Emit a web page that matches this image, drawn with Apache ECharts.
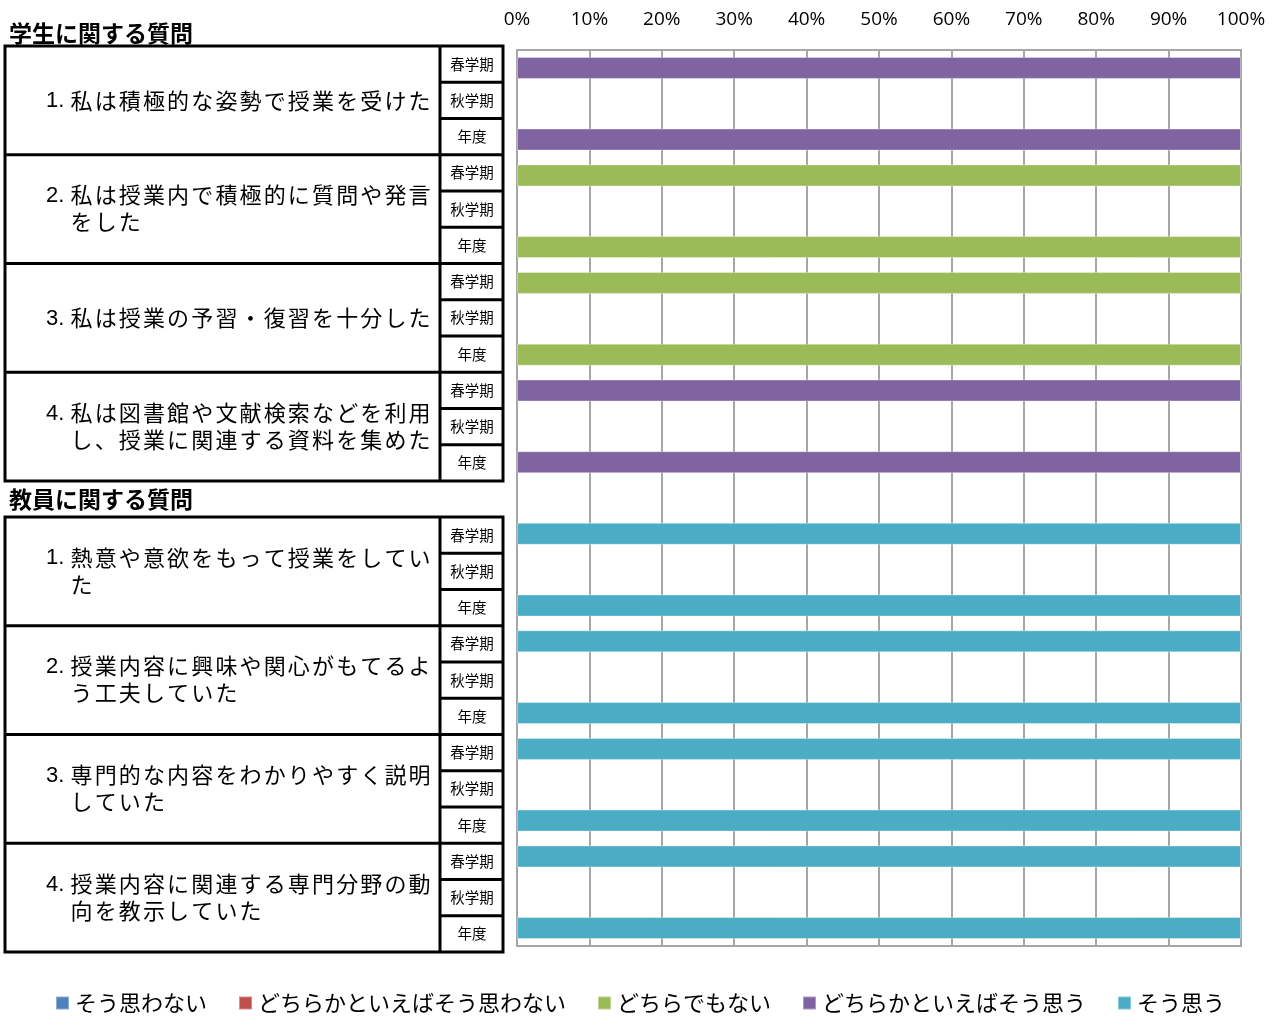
<!DOCTYPE html>
<html><head><meta charset="utf-8">
<script src="https://cdn.jsdelivr.net/npm/echarts@6/dist/echarts.min.js"></script>
<style>html,body{margin:0;padding:0;background:#fff}#c{width:1280px;height:1017px}</style>
</head><body><div id="c"></div><script>
// ---- data ----
const sectionTitles = ['学生に関する質問', '教員に関する質問'];
const terms = ['春学期', '秋学期', '年度'];
const studentQuestions = [
  ['1.', ['私は積極的な姿勢で授業を受けた']],
  ['2.', ['私は授業内で積極的に質問や発言', 'をした']],
  ['3.', ['私は授業の予習・復習を十分した']],
  ['4.', ['私は図書館や文献検索などを利用', 'し、授業に関連する資料を集めた']]
];
const teacherQuestions = [
  ['1.', ['熱意や意欲をもって授業をしてい', 'た']],
  ['2.', ['授業内容に興味や関心がもてるよ', 'う工夫していた']],
  ['3.', ['専門的な内容をわかりやすく説明', 'していた']],
  ['4.', ['授業内容に関連する専門分野の動', '向を教示していた']]
];
const seriesNames = ['そう思わない', 'どちらかといえばそう思わない', 'どちらでもない', 'どちらかといえばそう思う', 'そう思う'];
const seriesColors = ['#4F81BD', '#C0504D', '#9BBB59', '#8064A2', '#4BACC6'];
// rows: student Q1..Q4 x (春,秋,年度), gap row, teacher Q1..Q4 x (春,秋,年度)
const soOmowanai        = [0,0,0, 0,0,0, 0,0,0, 0,0,0, 0, 0,0,0, 0,0,0, 0,0,0, 0,0,0];
const dochirakaOmowanai = [0,0,0, 0,0,0, 0,0,0, 0,0,0, 0, 0,0,0, 0,0,0, 0,0,0, 0,0,0];
const dochiraDemonai    = [0,0,0, 100,0,100, 100,0,100, 0,0,0, 0, 0,0,0, 0,0,0, 0,0,0, 0,0,0];
const dochirakaOmou     = [100,0,100, 0,0,0, 0,0,0, 100,0,100, 0, 0,0,0, 0,0,0, 0,0,0, 0,0,0];
const soOmou            = [0,0,0, 0,0,0, 0,0,0, 0,0,0, 0, 100,0,100, 100,0,100, 100,0,100, 100,0,100];
const seriesValues = [soOmowanai, dochirakaOmowanai, dochiraDemonai, dochirakaOmou, soOmou];

// ---- categories ----
const categories = [];
studentQuestions.forEach((q, i) => terms.forEach(t => categories.push('学' + (i + 1) + t)));
categories.push('gap');
teacherQuestions.forEach((q, i) => terms.forEach(t => categories.push('教' + (i + 1) + t)));

const JP = '"Noto Sans CJK JP", "Noto Sans", sans-serif';

// ---- left table (graphic) ----
const graphic = [];
const tblL = 5, tblDiv = 440, tblR = 503, blockH = 108.75, termH = blockH / 3;
function txt(x, y, text, size, weight, align, family) {
  graphic.push({type: 'text', x: x, y: y, silent: true, style: {
    text: text, fill: '#000', font: (weight || 'normal') + ' ' + size + 'px ' + (family || JP),
    textAlign: align || 'left', textVerticalAlign: 'middle', align: align || 'left', verticalAlign: 'middle'}});
}
function line(x1, y1, x2, y2, w) {
  graphic.push({type: 'line', silent: true, shape: {x1: x1, y1: y1, x2: x2, y2: y2}, style: {stroke: '#000', lineWidth: w}});
}
const sections = [
  {title: sectionTitles[0], titleY: 33, top: 46, qs: studentQuestions},
  {title: sectionTitles[1], titleY: 499, top: 517, qs: teacherQuestions}
];
sections.forEach(sec => {
  txt(9, sec.titleY, sec.title, 23, 'bold');
  const h = sec.qs.length * blockH;
  graphic.push({type: 'rect', silent: true, shape: {x: tblL, y: sec.top, width: tblR - tblL, height: h},
    style: {fill: 'none', stroke: '#000', lineWidth: 3}});
  line(tblDiv, sec.top, tblDiv, sec.top + h, 3);
  sec.qs.forEach((q, qi) => {
    const bt = sec.top + qi * blockH;
    if (qi > 0) line(tblL, bt, tblR, bt, 3);
    for (let k = 1; k < 3; k++) line(tblDiv, bt + k * termH, tblR, bt + k * termH, 3);
    terms.forEach((t, k) => txt(472, bt + (k + 0.5) * termH, t, 14.5, 'normal', 'center'));
    const cy = bt + blockH / 2;
    const lines = q[1];
    const ys = lines.length === 1 ? [cy] : [cy - 14, cy + 13];
    txt(46, ys[0] + 1, q[0], 22, 'normal', 'left', '"Liberation Sans", sans-serif');
    lines.forEach((ln, li) => {
      Array.from(ln).forEach((ch, ci) => txt(70.5 + ci * 24.15, ys[li], ch, 22));
    });
  });
});

// ---- chart ----
const chart = echarts.init(document.getElementById('c'));
chart.setOption({
  animation: false,
  backgroundColor: '#fff',
  grid: {left: 517, right: 39, top: 50, bottom: 71, show: true, borderColor: '#a6a6a6', borderWidth: 2},
  xAxis: {
    type: 'value', position: 'top', min: 0, max: 100, interval: 10,
    axisLine: {show: false}, axisTick: {show: false},
    axisLabel: {formatter: '{value}%', fontSize: 19, color: '#000', fontFamily: '"Open Sans", sans-serif', margin: 21},
    splitLine: {lineStyle: {color: '#a6a6a6', width: 2}}
  },
  yAxis: {
    type: 'category', inverse: true, data: categories,
    axisLine: {show: false}, axisLabel: {show: false}, axisTick: {show: false}
  },
  legend: {
    top: 987, left: 'center', itemWidth: 13, itemHeight: 13, itemGap: 31, icon: 'rect',
    textStyle: {fontSize: 22, color: '#000', fontFamily: JP, padding: [0, 0, 0, 1]}, data: seriesNames
  },
  graphic: graphic,
  series: seriesNames.map((n, i) => ({
    name: n, type: 'bar', stack: 'total', barWidth: 22,
    itemStyle: {color: seriesColors[i], borderColor: 'rgba(255,255,255,0.35)', borderWidth: 1},
    data: seriesValues[i].map(v => v === 0 ? null : v)
  }))
});
</script></body></html>
